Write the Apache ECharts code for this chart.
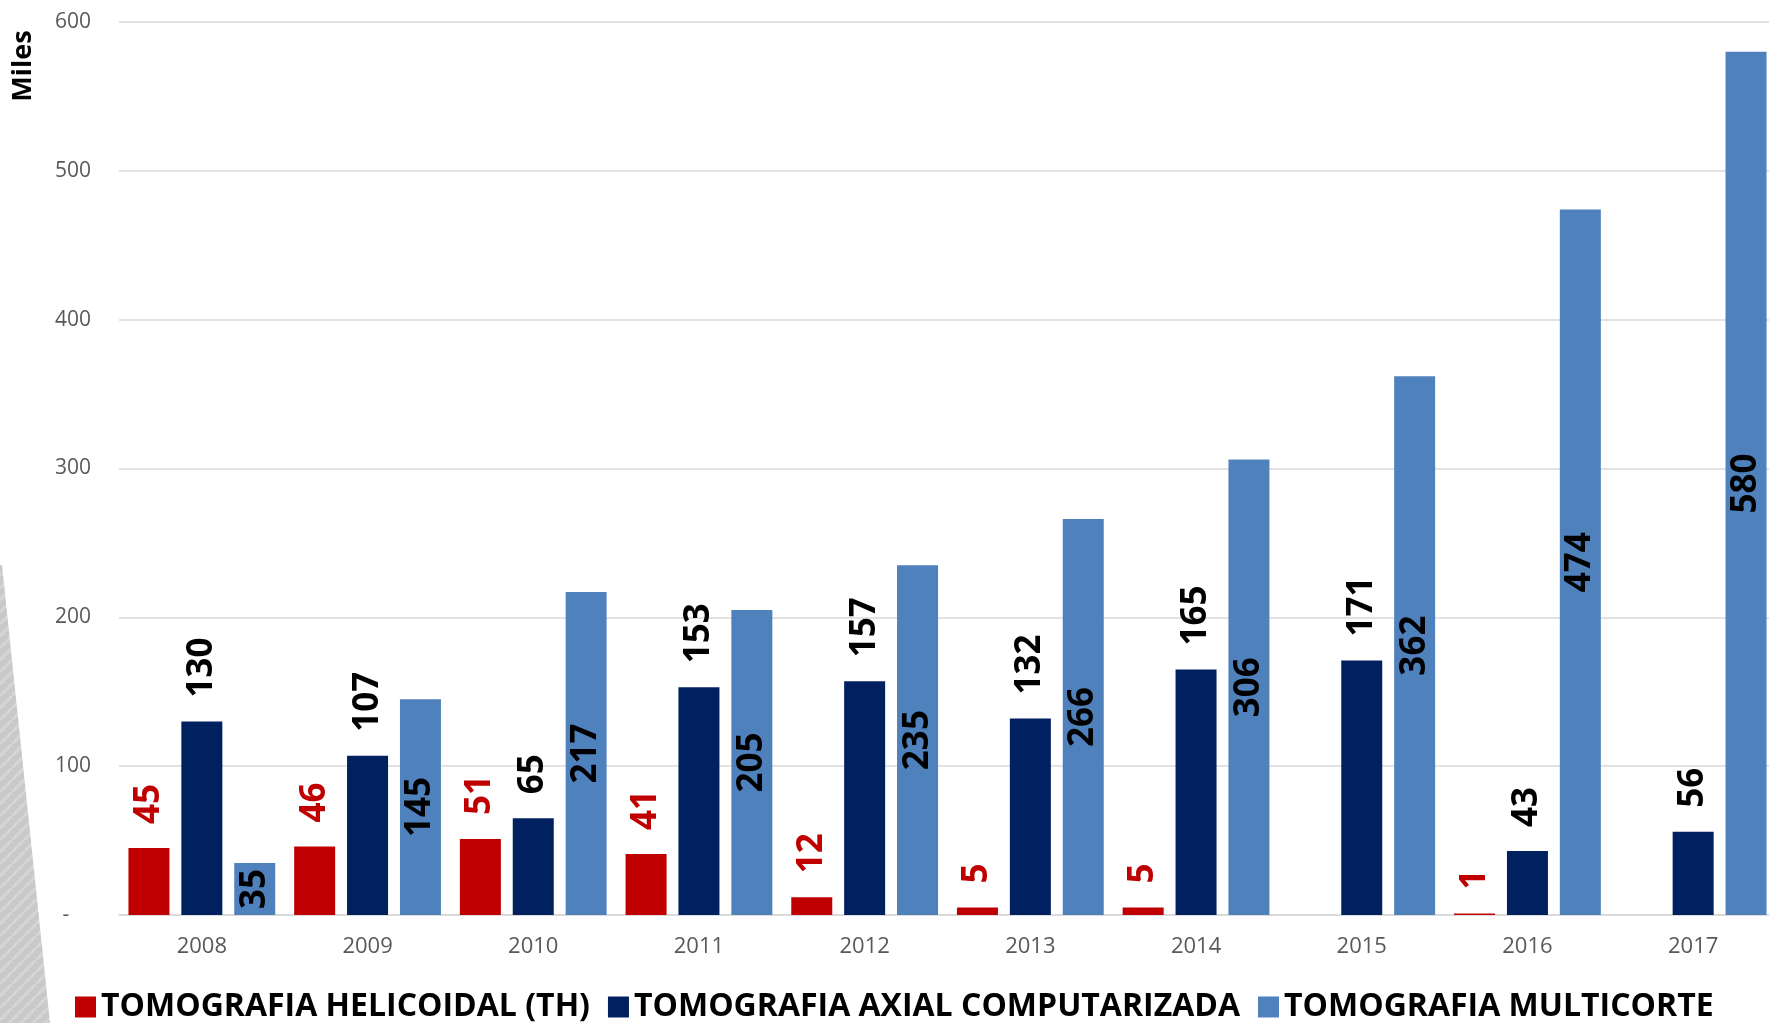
<!DOCTYPE html>
<html>
<head>
<meta charset="utf-8">
<script src="https://cdn.jsdelivr.net/npm/echarts@6/dist/echarts.min.js"></script>
<style>
html,body{margin:0;padding:0;background:#fff;}
#chart{width:1769px;height:1023px;}
</style>
</head>
<body>
<div id="chart"></div>
<script>
const years = ['2008','2009','2010','2011','2012','2013','2014','2015','2016','2017'];
const helicoidal = [45, 46, 51, 41, 12, 5, 5, null, 1, null];
const axial = [130, 107, 65, 153, 157, 132, 165, 171, 43, 56];
const multicorte = [35, 145, 217, 205, 235, 266, 306, 362, 474, 580];
const yTicks = [0, 100, 200, 300, 400, 500, 600];
const seriesNames = ['TOMOGRAFIA HELICOIDAL (TH)', 'TOMOGRAFIA AXIAL COMPUTARIZADA', 'TOMOGRAFIA MULTICORTE'];
const colors = ['#C00000', '#002060', '#4F81BD'];

// stripe pattern for decorative shape
const pc = document.createElement('canvas');
pc.width = 12; pc.height = 12;
const pctx = pc.getContext('2d');
pctx.fillStyle = '#c9c9c9';
pctx.fillRect(0,0,12,12);
pctx.strokeStyle = '#d6d6d6';
pctx.lineWidth = 3;
for (let k=-12;k<=24;k+=12){pctx.beginPath();pctx.moveTo(k,12);pctx.lineTo(k+12,0);pctx.stroke();}

const chart = echarts.init(document.getElementById('chart'), null, {renderer:'canvas'});
const FONT = "'Open Sans', sans-serif";
const topLabel = (color) => ({
  show: true, position: 'top', rotate: 90, align: 'left', verticalAlign: 'middle',
  distance: 24, color: color, fontSize: 35, fontWeight: 'bold', fontFamily: FONT,
  formatter: p => (p.value == null ? '' : p.value)
});
chart.setOption({
  animation: false,
  backgroundColor: '#ffffff',
  color: colors,
  grid: {left: 119, right: -7, top: 22, bottom: 108, containLabel: false, outerBoundsMode: 'none'},
  graphic: [
    {type:'polygon', z: -10, shape:{points:[[0,565],[2,565],[50,1023],[0,1023]]},
     style:{fill:{image: pc, repeat:'repeat'}}},
    {type:'text', x: 23, y: 66, rotation: Math.PI/2,
     style:{text:'Miles', font:"bold 27px 'Open Sans', sans-serif", fill:'#000', align:'center', verticalAlign:'middle'}}
  ],
  legend: {
    left: 70, top: 986, itemWidth: 21, itemHeight: 21, itemGap: 18,
    icon: 'rect',
    textStyle: {color:'#000', fontSize: 32, fontWeight:'bold', fontFamily: FONT},
    data: seriesNames
  },
  xAxis: {
    type: 'category', data: years,
    axisTick: {show:false},
    axisLine: {lineStyle:{color:'#d9d9d9', width:1.5}},
    axisLabel: {color:'#595959', fontSize: 22, margin: 21, fontFamily: FONT}
  },
  yAxis: {
    type: 'value', min: 0, max: 600, interval: 100,
    axisLine: {show:false}, axisTick: {show:false},
    splitLine: {lineStyle:{color:'#d9d9d9', width:1.5}},
    axisLabel: {color:'#595959', fontSize: 21, margin: 28, fontFamily: FONT,
      formatter: v => (v === 0 ? '-    ' : String(v))}
  },
  series: [
    {name: seriesNames[0], type:'bar', data: helicoidal, barWidth: 41, barGap: '29%',
     itemStyle:{color: colors[0]}, label: topLabel('#C00000')},
    {name: seriesNames[1], type:'bar', data: axial, barWidth: 41, barGap: '29%',
     itemStyle:{color: colors[1]}, label: topLabel('#000000')},
    {name: seriesNames[2], type:'bar', data: multicorte, barWidth: 41, barGap: '29%',
     itemStyle:{color: colors[2]},
     label:{show:true, position:'inside', rotate: 90, align:'center', verticalAlign:'middle',
       color:'#000', fontSize: 35, fontWeight:'bold', fontFamily: FONT}}
  ]
});
</script>
</body>
</html>
